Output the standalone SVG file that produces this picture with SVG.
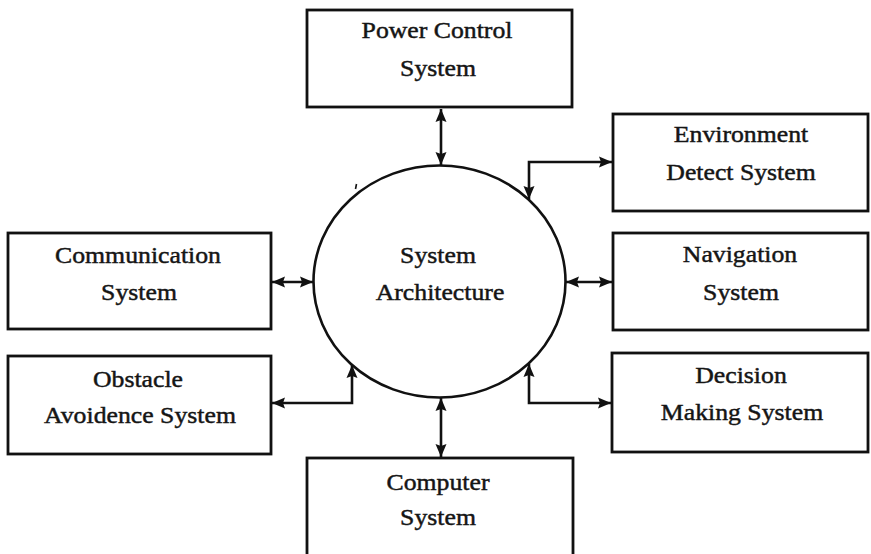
<svg xmlns="http://www.w3.org/2000/svg" width="871" height="554" viewBox="0 0 871 554">
  <style>
    .box { fill: #fff; stroke: #111; stroke-width: 2.8; }
    .hub { fill: none; stroke: #111; stroke-width: 2.6; }
    .link { fill: none; stroke: #111; stroke-width: 2.6; marker-start: url(#head); marker-end: url(#head); }
    .lbl { font-family: "Liberation Serif", "Times New Roman", serif; font-size: 23px; fill: #151515; stroke: #151515; stroke-width: 0.45; text-anchor: middle; }
  </style>
  <defs>
    <marker id="head" markerUnits="userSpaceOnUse" markerWidth="14" markerHeight="12" refX="13" refY="6" orient="auto-start-reverse">
      <path d="M0,0.5 L13,6 L0,11.5 L2,6 z" fill="#111"/>
    </marker>
  </defs>
  <rect width="871" height="554" fill="#fff"/>

  <g id="connectors">
    <line class="link" x1="441" y1="109" x2="441" y2="165"/>
    <polyline class="link" points="529,199 529,162 612,162"/>
    <line class="link" x1="272" y1="282" x2="313" y2="282"/>
    <line class="link" x1="566" y1="282" x2="612" y2="282"/>
    <polyline class="link" points="352,365 352,403 272,403"/>
    <polyline class="link" points="529,364 529,403 611,403"/>
    <line class="link" x1="441" y1="398" x2="441" y2="457"/>
  </g>

  <g id="system-architecture">
    <ellipse class="hub" cx="439.5" cy="281.5" rx="126" ry="116"/>
    <path d="M356.5,184 L355.5,189" stroke="#111" stroke-width="1.6"/>
    <text class="lbl" transform="translate(438,263) scale(1.12,1)">System</text>
    <text class="lbl" transform="translate(440,300) scale(1.12,1)">Architecture</text>
  </g>

  <g id="power-control">
    <rect class="box" x="307" y="10" width="265" height="97"/>
    <text class="lbl" transform="translate(437,38) scale(1.12,1)">Power Control</text>
    <text class="lbl" transform="translate(438,76) scale(1.12,1)">System</text>
  </g>

  <g id="environment-detect">
    <rect class="box" x="613" y="114" width="255" height="97"/>
    <text class="lbl" transform="translate(741,142) scale(1.12,1)">Environment</text>
    <text class="lbl" transform="translate(741,180) scale(1.12,1)">Detect System</text>
  </g>

  <g id="communication">
    <rect class="box" x="8" y="233" width="263" height="96"/>
    <text class="lbl" transform="translate(138,263) scale(1.12,1)">Communication</text>
    <text class="lbl" transform="translate(139,300) scale(1.12,1)">System</text>
  </g>

  <g id="navigation">
    <rect class="box" x="613" y="233" width="255" height="97"/>
    <text class="lbl" transform="translate(740,262) scale(1.12,1)">Navigation</text>
    <text class="lbl" transform="translate(741,300) scale(1.12,1)">System</text>
  </g>

  <g id="obstacle-avoidence">
    <rect class="box" x="8" y="356" width="263" height="98"/>
    <text class="lbl" transform="translate(138,387) scale(1.12,1)">Obstacle</text>
    <text class="lbl" transform="translate(140,423) scale(1.12,1)">Avoidence System</text>
  </g>

  <g id="decision-making">
    <rect class="box" x="612" y="353" width="256" height="99"/>
    <text class="lbl" transform="translate(741,383) scale(1.12,1)">Decision</text>
    <text class="lbl" transform="translate(742,420) scale(1.12,1)">Making System</text>
  </g>

  <g id="computer">
    <rect class="box" x="307" y="458" width="266" height="100"/>
    <text class="lbl" transform="translate(438,490) scale(1.12,1)">Computer</text>
    <text class="lbl" transform="translate(438,525) scale(1.12,1)">System</text>
  </g>
</svg>
